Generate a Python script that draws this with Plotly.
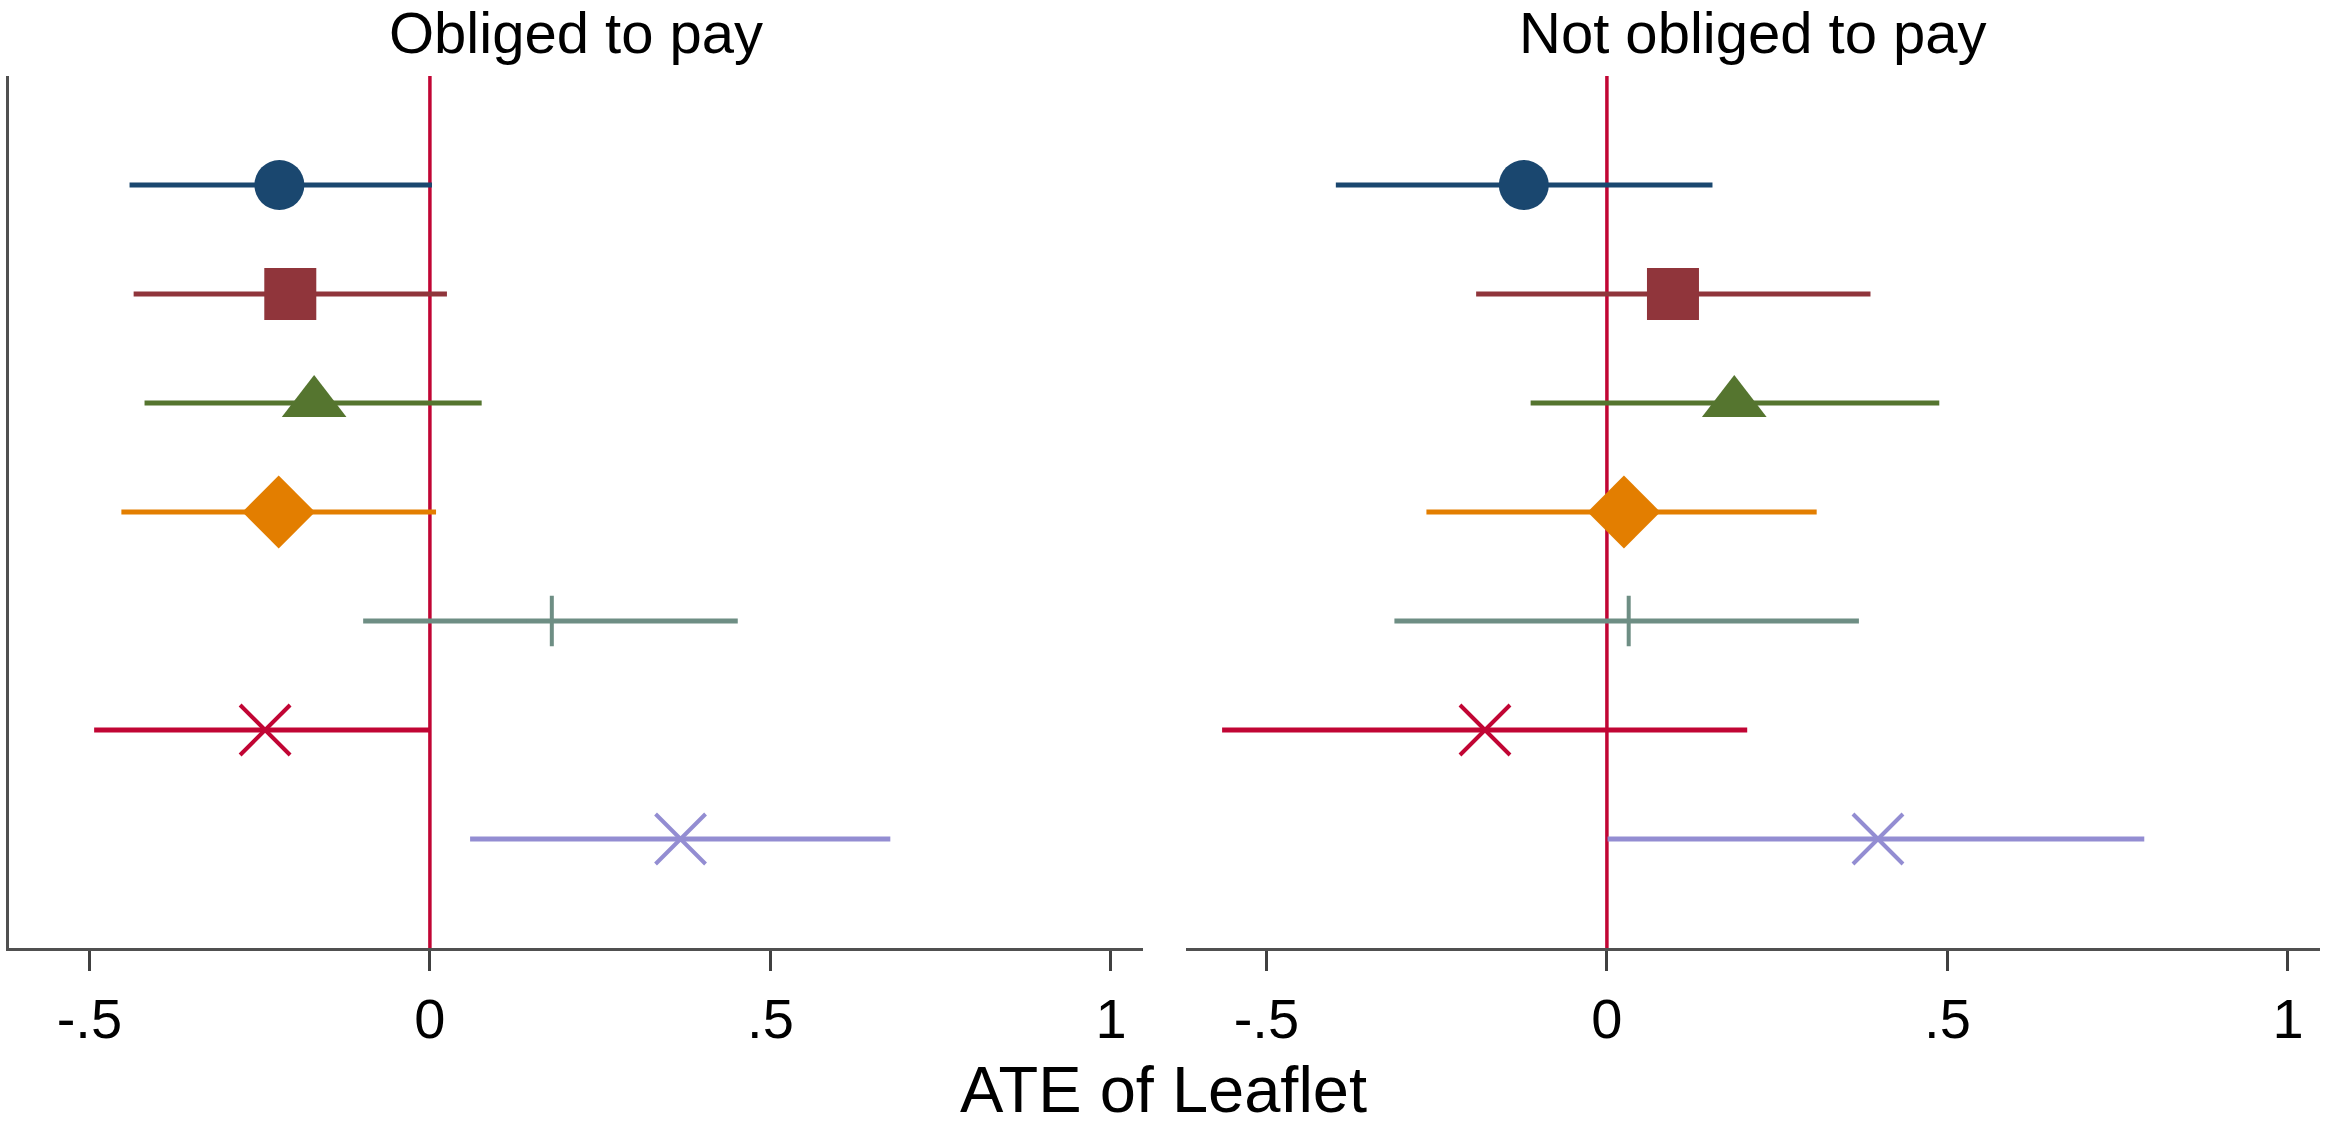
import plotly.graph_objects as go

# ---- data ----
rows = [1, 2, 3, 4, 5, 6, 7]
series_names = ["Estimate 1", "Estimate 2", "Estimate 3", "Estimate 4",
                "Estimate 5", "Estimate 6", "Estimate 7"]

obliged_est = [-0.221, -0.205, -0.170, -0.222, 0.179, -0.242, 0.368]
obliged_lo = [-0.441, -0.435, -0.419, -0.453, -0.098, -0.493, 0.059]
obliged_hi = [0.003, 0.025, 0.076, 0.009, 0.452, 0.000, 0.676]

notobl_est = [-0.122, 0.097, 0.187, 0.025, 0.032, -0.179, 0.398]
notobl_lo = [-0.398, -0.192, -0.112, -0.265, -0.312, -0.565, 0.001]
notobl_hi = [0.155, 0.387, 0.488, 0.308, 0.370, 0.206, 0.789]

panel_titles = ["Obliged to pay", "Not obliged to pay"]
x_title = "ATE of Leaflet"
tick_vals = [-0.5, 0, 0.5, 1]
tick_text = ["-.5", "0", ".5", "1"]

# ---- styles ----
colors = ["#1a476f", "#90353b", "#55752f", "#e37e00", "#6e8e84", "#c10534", "#938dd2"]
symbols = ["circle", "square", "triangle-up", "diamond", "cross-thin-open",
           "x-thin-open", "x-thin-open"]
sizes = [50, 52, 56, 56, 36, 50, 50]
FONT = "Liberation Sans, Arial, Helvetica, sans-serif"
ZERO = "#c10534"
AX = "#505050"

fig = go.Figure()

panels = [
    (obliged_est, obliged_lo, obliged_hi, "x", "y"),
    (notobl_est, notobl_lo, notobl_hi, "x2", "y2"),
]

for est, lo, hi, xa, ya in panels:
    for i in range(len(rows)):
        open_sym = symbols[i].endswith("open")
        fig.add_trace(go.Scatter(
            x=[est[i]], y=[rows[i]], xaxis=xa, yaxis=ya,
            mode="markers", name=series_names[i], showlegend=False,
            marker=dict(
                symbol=symbols[i], size=sizes[i], color=colors[i],
                line=dict(width=4 if open_sym else 0, color=colors[i]),
            ),
            error_x=dict(
                type="data", symmetric=False,
                array=[hi[i] - est[i]], arrayminus=[est[i] - lo[i]],
                color=colors[i], thickness=5, width=0,
            ),
        ))

xaxis_common = dict(
    range=[-0.618, 1.047], tickvals=tick_vals, ticktext=tick_text,
    ticks="outside", ticklen=20, tickwidth=2.5, tickcolor="#404040",
    showline=True, linecolor=AX, linewidth=3, showgrid=False, zeroline=False,
    tickfont=dict(family=FONT, size=56, color="#000000"),
)
yaxis_common = dict(
    range=[8, 0], autorange=False, showgrid=False, zeroline=False,
    showticklabels=False, ticks="", domain=[0.1603, 0.9327],
)

fig.update_layout(
    width=2326, height=1129,
    margin=dict(l=0, r=0, t=0, b=0),
    paper_bgcolor="white", plot_bgcolor="white",
    font=dict(family=FONT, color="#000000"),
    xaxis=dict(domain=[9 / 2326, 1143 / 2326], anchor="y", **xaxis_common),
    xaxis2=dict(domain=[1186 / 2326, 2320 / 2326], anchor="y2", **xaxis_common),
    yaxis=dict(anchor="x", showline=True, linecolor=AX, linewidth=2.5, **yaxis_common),
    yaxis2=dict(anchor="x2", showline=False, **yaxis_common),
)

# zero reference lines
for xref, yref in [("x", "y domain"), ("x2", "y2 domain")]:
    fig.add_shape(type="line", x0=0, x1=0, y0=0, y1=1, xref=xref, yref=yref,
                  line=dict(color=ZERO, width=3.5), layer="below")

# panel titles
for xa, t in [("x domain", panel_titles[0]), ("x2 domain", panel_titles[1])]:
    fig.add_annotation(text=t, x=0.5, xref=xa, y=0.971, yref="paper",
                       xanchor="center", yanchor="middle", showarrow=False,
                       font=dict(family=FONT, size=58, color="#000000"))

# x-axis title
fig.add_annotation(text=x_title, x=0.5, xref="paper", y=0.035, yref="paper",
                   xanchor="center", yanchor="middle", showarrow=False,
                   font=dict(family=FONT, size=65, color="#000000"))

fig.write_html(
    "out.html",
    config={"displayModeBar": False},
    post_script="document.body.style.margin='0px';document.body.style.overflow='hidden';",
)
